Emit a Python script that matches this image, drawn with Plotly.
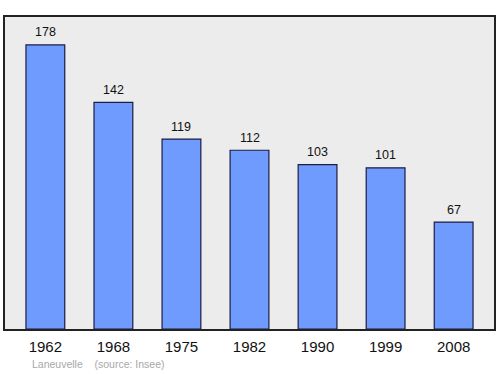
import plotly.graph_objects as go

years = ["1962", "1968", "1975", "1982", "1990", "1999", "2008"]
population = [178, 142, 119, 112, 103, 101, 67]
source_text = "Laneuvelle    (source: Insee)"

xs = list(range(len(years)))

fig = go.Figure()
fig.add_trace(go.Bar(
    x=xs, y=population, width=0.57,
    marker=dict(color="#6f9bff", line=dict(color="#1c1c44", width=1.2)),
    hoverinfo="skip",
))

for x, v in zip(xs, population):
    fig.add_annotation(x=x, y=v, text=str(v), showarrow=False, yanchor="bottom",
                       yshift=3.5, font=dict(family="Liberation Sans, Arial", size=12.5, color="#111"))

fig.add_annotation(xref="paper", yref="paper", x=(30 - 5) / 491, y=-(364 - 329) / 312,
                   text=source_text, showarrow=False, xanchor="left", yanchor="middle",
                   font=dict(family="Liberation Sans, Arial", size=10.5, color="#a8a8a8"))

fig.update_layout(
    width=500, height=374,
    margin=dict(l=5, r=4, t=17, b=45),
    paper_bgcolor="white", plot_bgcolor="#ececec",
    showlegend=False,
    xaxis=dict(range=[-0.593, 6.593], tickmode="array", tickvals=xs, ticktext=years,
               showgrid=False, zeroline=False, showline=True, linecolor="#222", linewidth=1.5,
               mirror=True, ticks="outside", ticklen=3.5, tickcolor="rgba(0,0,0,0)",
               tickfont=dict(family="Liberation Sans, Arial", size=15, color="#111")),
    yaxis=dict(range=[0, 195.5], showgrid=False, zeroline=False, showticklabels=False,
               showline=True, linecolor="#222", linewidth=1.5, mirror=True, ticks=""),
)

fig.write_html("out.html")
